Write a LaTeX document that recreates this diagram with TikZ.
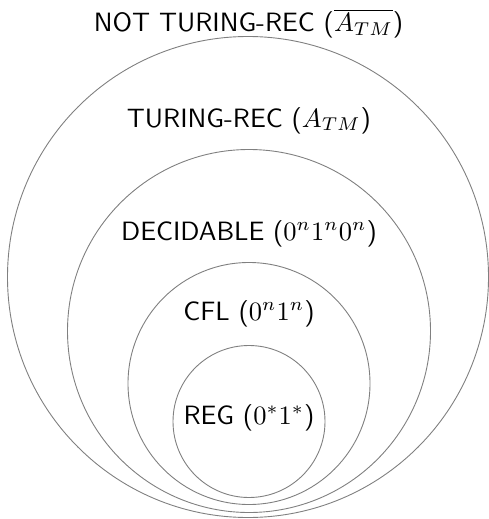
\documentclass[tikz,border=0pt]{standalone}
\begin{document}
\begin{tikzpicture}[x=1pt,y=-1pt,
  ring/.style={circle,draw=black!50,line width=0.9pt,inner sep=0pt},
  lbl/.style={anchor=base,inner sep=0pt,scale=2.65,font=\sffamily}]
\useasboundingbox (0,0) rectangle (488,519);
% nested classes, all touching near the bottom
\node[ring,minimum size=481pt] (nottm) at (248,277) {};
\node[ring,minimum size=363pt] (tm)    at (249,331) {};
\node[ring,minimum size=242pt] (dec)   at (249,383.5) {};
\node[ring,minimum size=152pt] (cfl)   at (249,421.5) {};
% labels, set at 10pt and enlarged
\node[lbl] (lnot) at (248.5,32)  {NOT TURING-REC ($\overline{A_{TM}}$)};
\node[lbl] (ltm)  at (249,127)   {TURING-REC ($A_{TM}$)};
\node[lbl] (ldec) at (249,240)   {DECIDABLE ($0^n1^n0^n$)};
\node[lbl] (lcfl) at (249,320)   {CFL ($0^n1^n$)};
\node[lbl] (lreg) at (249,424)   {REG ($0^*1^*$)};
\end{tikzpicture}
\end{document}
